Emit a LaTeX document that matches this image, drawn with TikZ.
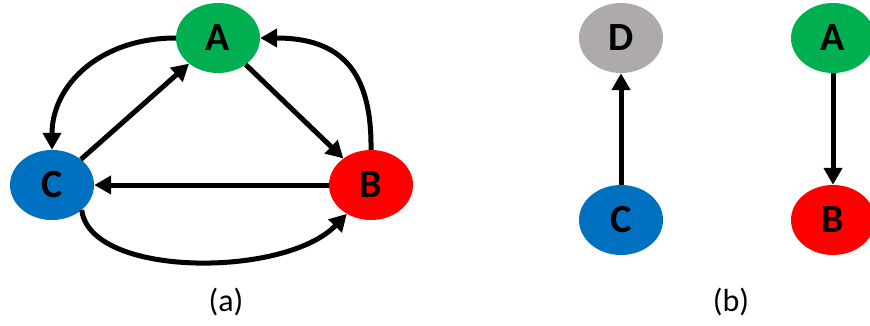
\documentclass[tikz,border=0pt]{standalone}
\usepackage{fontspec}
\setmainfont{Carlito}
\usetikzlibrary{shapes.geometric,arrows.meta}
\definecolor{cgreen}{HTML}{00B050}
\definecolor{cblue}{HTML}{0070C0}
\definecolor{cred}{HTML}{FF0000}
\definecolor{cgray}{HTML}{AEAAAA}
\tikzset{
  vtx/.style={ellipse, minimum width=84pt, minimum height=70pt, inner sep=0pt,
    font=\fontsize{40}{44}\selectfont\bfseries},
  edge/.style={line width=5pt, -{Triangle[length=17pt,width=18pt]}},
  sublabel/.style={font=\fontsize{32}{36}\selectfont}
}
\begin{document}
\begin{tikzpicture}[x=1pt,y=-1pt]
\useasboundingbox (0,0) rectangle (870,326);
% (a)
\node[vtx, fill=cgreen] (A) at (218,38) {A};
\node[vtx, fill=cblue] (C) at (52,185) {C};
\node[vtx, fill=cred] (B) at (371,185) {B};
\draw[edge] (A) -- (B);
\draw[edge] (C) -- (A);
\draw[edge] (B) -- (C);
\draw[edge] (A.west) .. controls (100,38) and (52,85) .. (C.north);
\draw[edge] (B.north) .. controls (372,70) and (340,38) .. (A.east);
\draw[edge] (C.-40) .. controls (90,278) and (285,278) .. (B.-130);
\node[sublabel] (la) at (226,302) {(a)};
% (b)
\node[vtx, fill=cgray] (D) at (621,38) {D};
\node[vtx, fill=cblue] (C2) at (621,220) {C};
\node[vtx, fill=cgreen] (A2) at (833,38) {A};
\node[vtx, fill=cred] (B2) at (833,220) {B};
\draw[edge] (C2) -- (D);
\draw[edge] (A2) -- (B2);
\node[sublabel] (lb) at (731,302) {(b)};
\end{tikzpicture}
\end{document}
